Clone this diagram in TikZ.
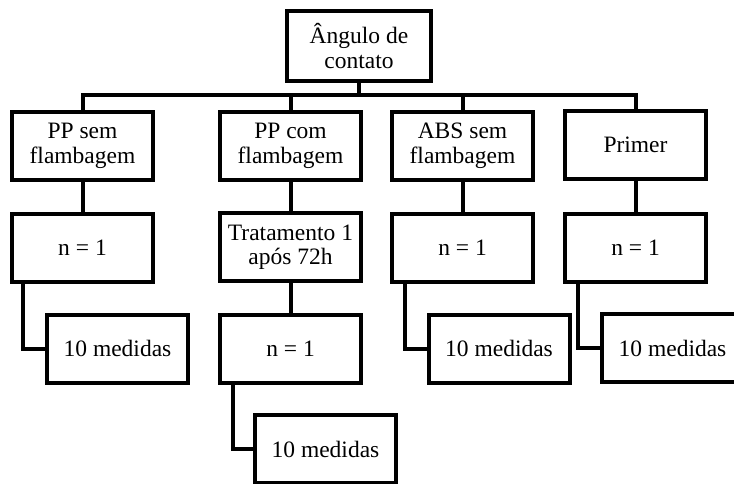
\documentclass[tikz,border=0pt]{standalone}
\usepackage{fontspec}
\setmainfont{Liberation Serif}
\begin{document}
\begin{tikzpicture}[x=1pt,y=-1pt,
  box/.style={draw=black,line width=4pt,rectangle,inner sep=0pt,
    minimum width=141pt,minimum height=68pt,align=center,
    font=\fontsize{23.5}{24.5}\selectfont},
  link/.style={draw=black,line width=4pt,line join=miter}]
\clip (0,0) rectangle (734,484);
\useasboundingbox (0,0) rectangle (734,484);

% root
\node[box,minimum width=144pt,minimum height=70pt] (top) at (359,46) {Ângulo de\\contato};
\coordinate (bus) at (0,95);

% column 1
\node[box] (c1) at (82.5,146) {PP sem\\flambagem};
\node[box] (n1) at (82.5,247.5) {n = 1};
\node[box] (m1) at (117.5,348.5) {10 medidas};

% column 2
\node[box] (c2) at (290.5,146) {PP com\\flambagem};
\node[box] (t2) at (290.5,247) {Tratamento 1\\após 72h};
\node[box] (n2) at (290.5,348.5) {n = 1};
\node[box] (m2) at (325.5,449) {10 medidas};

% column 3
\node[box] (c3) at (462.5,146) {ABS sem\\flambagem};
\node[box] (n3) at (462.5,247.5) {n = 1};
\node[box] (m3) at (499,348.5) {10 medidas};

% column 4
\node[box] (c4) at (635.5,145) {Primer};
\node[box] (n4) at (635.5,247.5) {n = 1};
\node[box] (m4) at (672.5,348) {10 medidas};

% bus from the root to every column
\draw[link] (top.south) -- (top.south |- bus);
\draw[link] (c1.north) -- (c1.north |- bus) -- (c4.north |- bus) -- (c4.north);
\draw[link] (c2.north) -- (c2.north |- bus);
\draw[link] (c3.north) -- (c3.north |- bus);

% vertical links inside the columns
\draw[link] (c1.south) -- (n1.north);
\draw[link] (c2.south) -- (t2.north);
\draw[link] (t2.south) -- (n2.north);
\draw[link] (c3.south) -- (n3.north);
\draw[link] (c4.south) -- (n4.north);

% elbows to the measurement boxes
\draw[link] ([xshift=13pt]n1.south west) |- (m1.west);
\draw[link] ([xshift=15pt]n2.south west) |- (m2.west);
\draw[link] ([xshift=15pt]n3.south west) |- (m3.west);
\draw[link] ([xshift=15pt]n4.south west) |- (m4.west);
\end{tikzpicture}
\end{document}
